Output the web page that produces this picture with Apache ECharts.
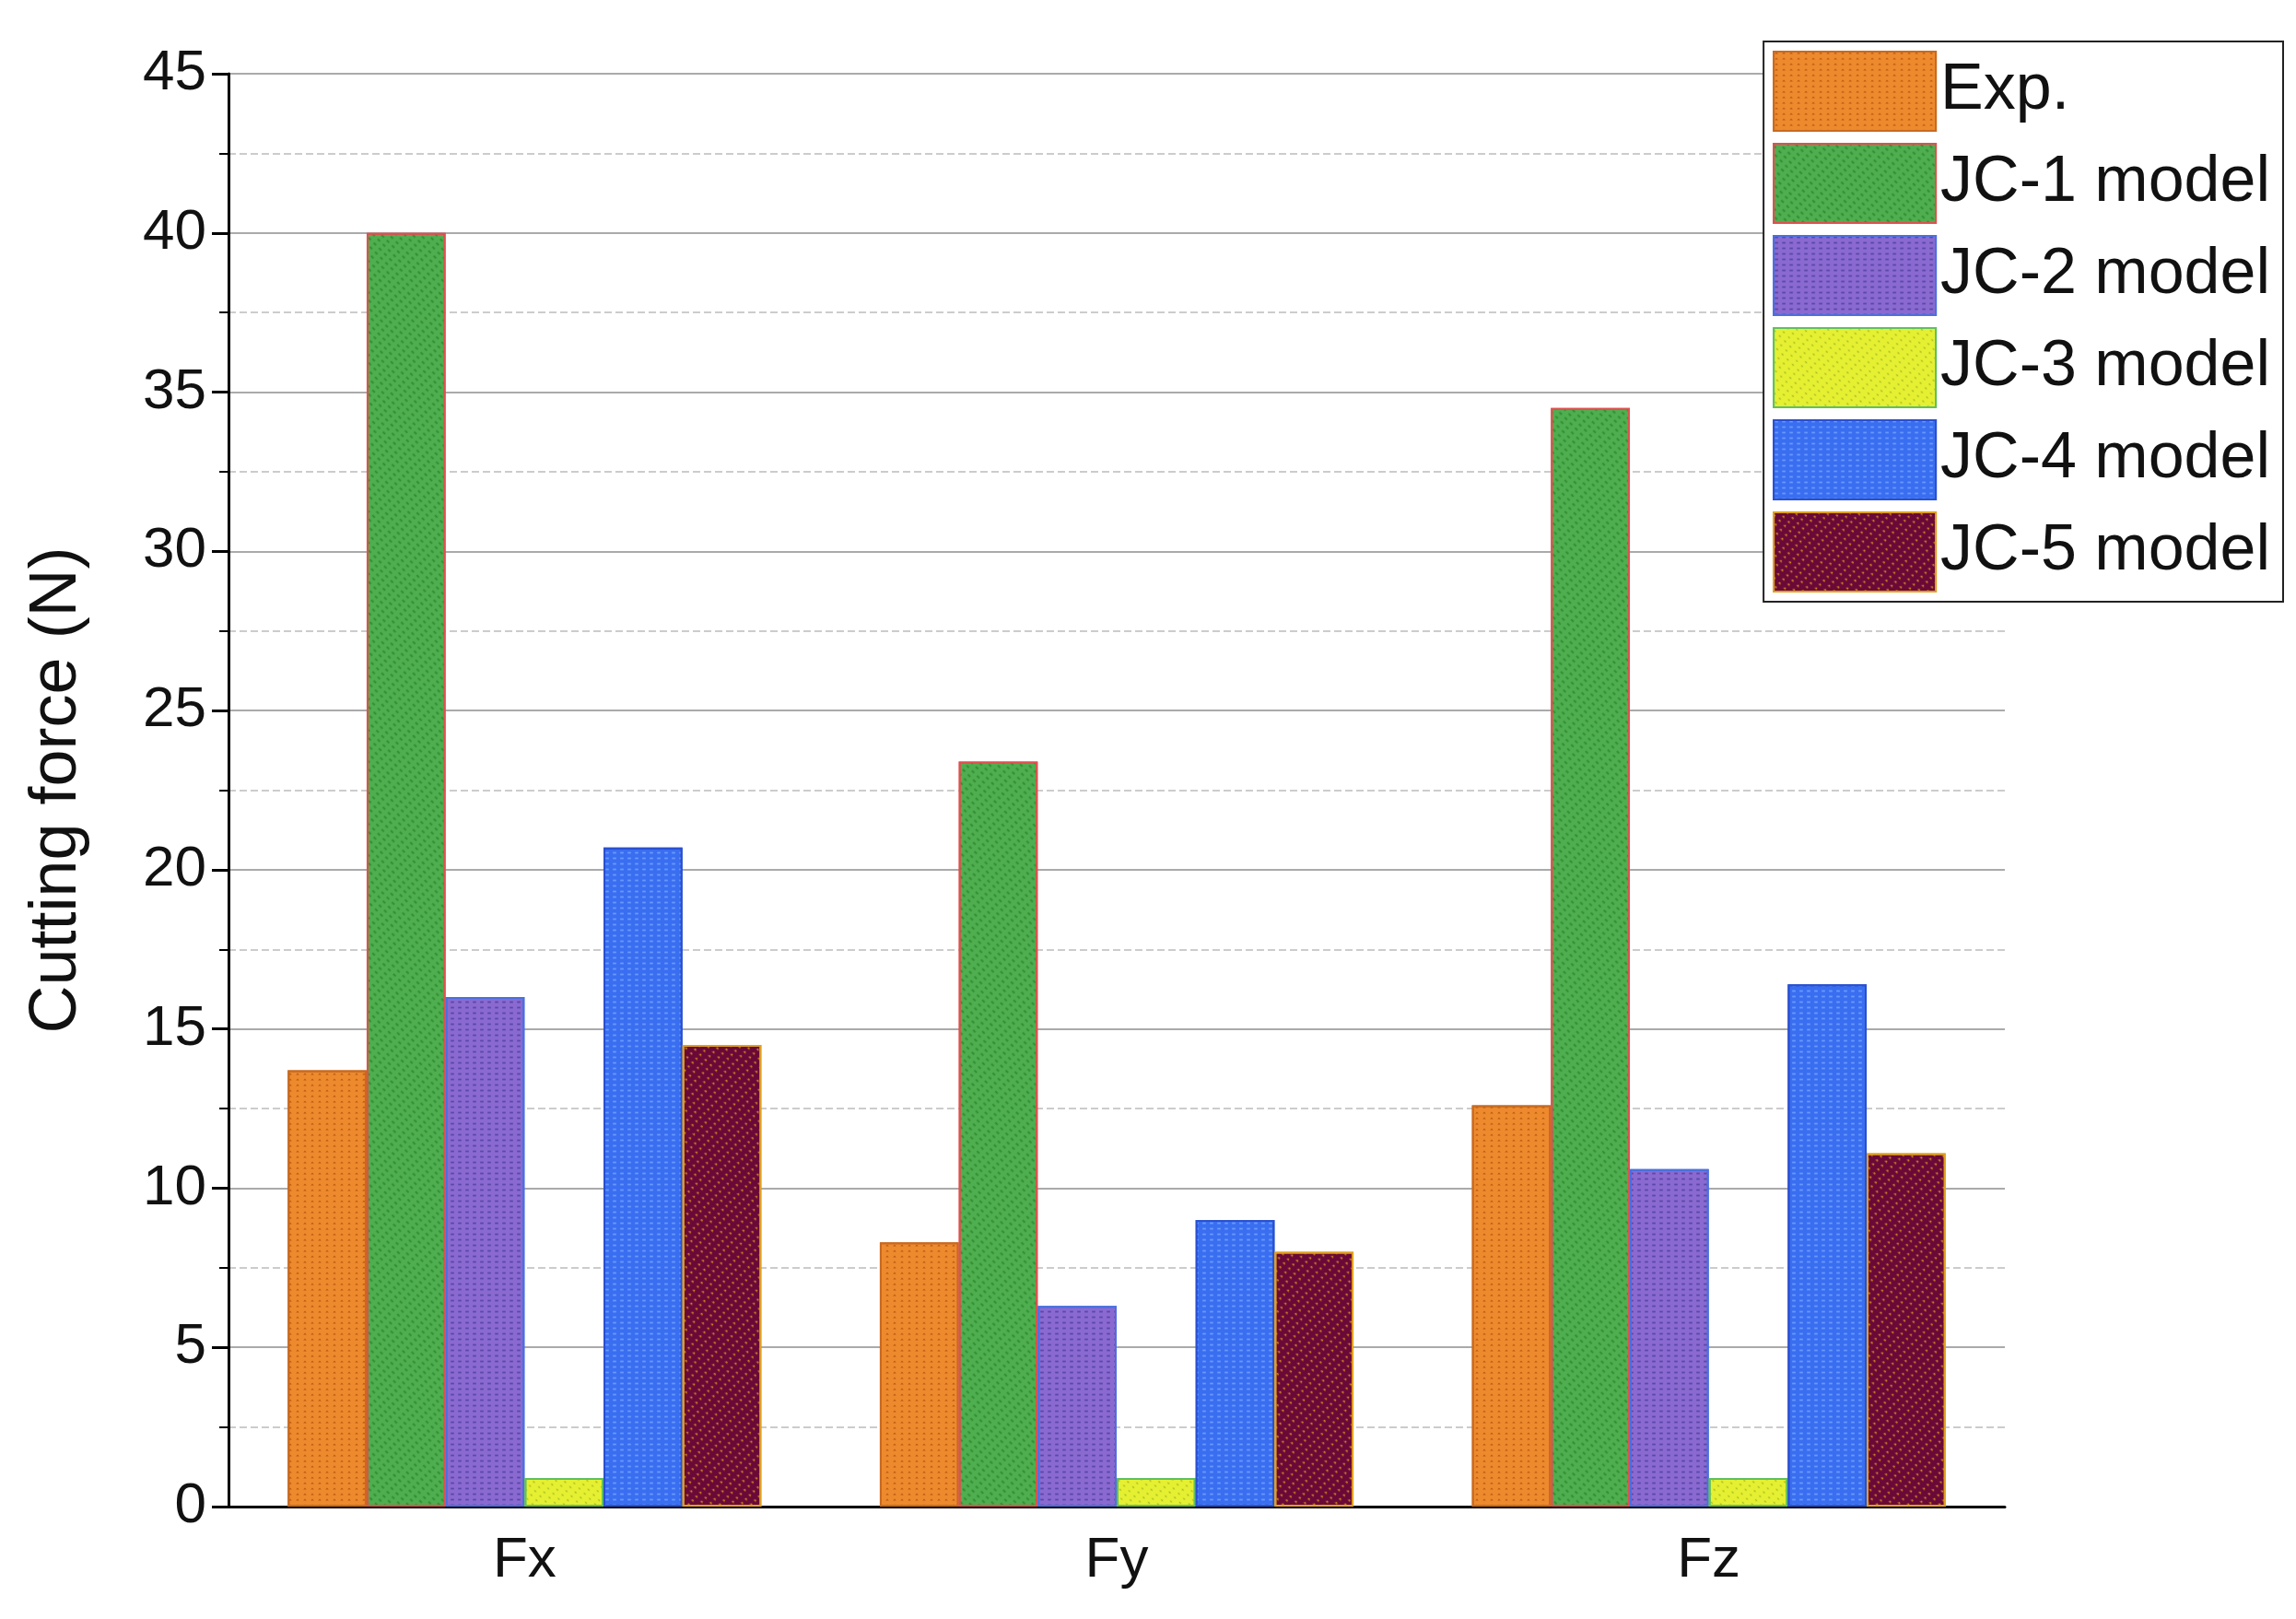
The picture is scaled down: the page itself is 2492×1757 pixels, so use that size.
<!DOCTYPE html>
<html>
<head>
<meta charset="utf-8">
<script src="https://cdn.jsdelivr.net/npm/echarts@6/dist/echarts.min.js"></script>
<style>html,body{margin:0;padding:0;background:#fff}#chart{width:2492px;height:1757px}</style>
</head>
<body>
<div id="chart"></div>
<script>
// data
const categories = ['Fx', 'Fy', 'Fz'];
const seriesNames = ['Exp.', 'JC-1 model', 'JC-2 model', 'JC-3 model', 'JC-4 model', 'JC-5 model'];
const expVals = [13.7, 8.3, 12.6];
const jc1Vals = [40.0, 23.4, 34.5];
const jc2Vals = [16.0, 6.3, 10.6];
const jc3Vals = [0.9, 0.9, 0.9];
const jc4Vals = [20.7, 9.0, 16.4];
const jc5Vals = [14.5, 8.0, 11.1];
const allVals = [expVals, jc1Vals, jc2Vals, jc3Vals, jc4Vals, jc5Vals];

// fill, pattern colour, border colour, pattern symbol
const looks = [
    ['#ee8a2e', '#b85a10', '#c86a20', 'triangle'],
    ['#4fae4f', '#2f8a2f', '#e05050', 'rect'],
    ['#8a6ad0', '#5a48a8', '#4a70e0', 'rect'],
    ['#e6f032', '#a8c020', '#60c060', 'diamond'],
    ['#3a6ef0', '#6a9aff', '#2a50d0', 'rect'],
    ['#6a0838', '#e0a020', '#e0a020', 'triangle']
];

const chart = echarts.init(document.getElementById('chart'));

const series = allVals.map((vals, i) => ({
    name: seriesNames[i],
    type: 'bar',
    data: vals,
    barGap: '0%',
    barCategoryGap: '20%',
    itemStyle: {
        color: looks[i][0],
        borderColor: looks[i][2],
        borderWidth: 2,
        decal: {
            symbol: looks[i][3],
            color: looks[i][1],
            symbolSize: 0.6,
            dashArrayX: [6, 2],
            dashArrayY: [3, 3],
            rotation: i % 2 ? Math.PI / 4 : 0
        }
    }
}));

chart.setOption({
    animation: false,
    backgroundColor: '#fff',
    grid: { left: 248, right: 316, top: 80, bottom: 122 },
    legend: {
        right: 14, top: 45,
        orient: 'vertical',
        icon: 'rect',
        itemWidth: 176, itemHeight: 86,
        itemGap: 12,
        padding: [10, 14, 10, 10],
        borderColor: '#222', borderWidth: 2,
        backgroundColor: '#fff',
        textStyle: { fontSize: 70, color: '#111', fontFamily: 'Arial, Liberation Sans' },
        data: seriesNames
    },
    xAxis: {
        type: 'category',
        data: categories,
        axisLine: { lineStyle: { color: '#000', width: 3 } },
        axisTick: { show: false },
        axisLabel: { fontSize: 62, color: '#111', margin: 28, fontFamily: 'Arial, Liberation Sans' }
    },
    yAxis: {
        type: 'value',
        min: 0, max: 45, interval: 5,
        name: 'Cutting force (N)',
        nameLocation: 'middle',
        nameGap: 150,
        nameTextStyle: { fontSize: 72, color: '#111', fontFamily: 'Arial, Liberation Sans' },
        axisLine: { show: true, lineStyle: { color: '#000', width: 3 } },
        axisTick: { show: true, length: 18, lineStyle: { width: 3 } },
        minorTick: { show: true, splitNumber: 2, length: 10, lineStyle: { color: '#000', width: 2 } },
        axisLabel: { fontSize: 62, color: '#111', margin: 24, fontFamily: 'Arial, Liberation Sans' },
        splitLine: { show: true, lineStyle: { color: '#aaa', width: 2 } },
        minorSplitLine: { show: true, lineStyle: { color: '#ccc', width: 2, type: 'dashed' } }
    },
    series: series
});
</script>
</body>
</html>
